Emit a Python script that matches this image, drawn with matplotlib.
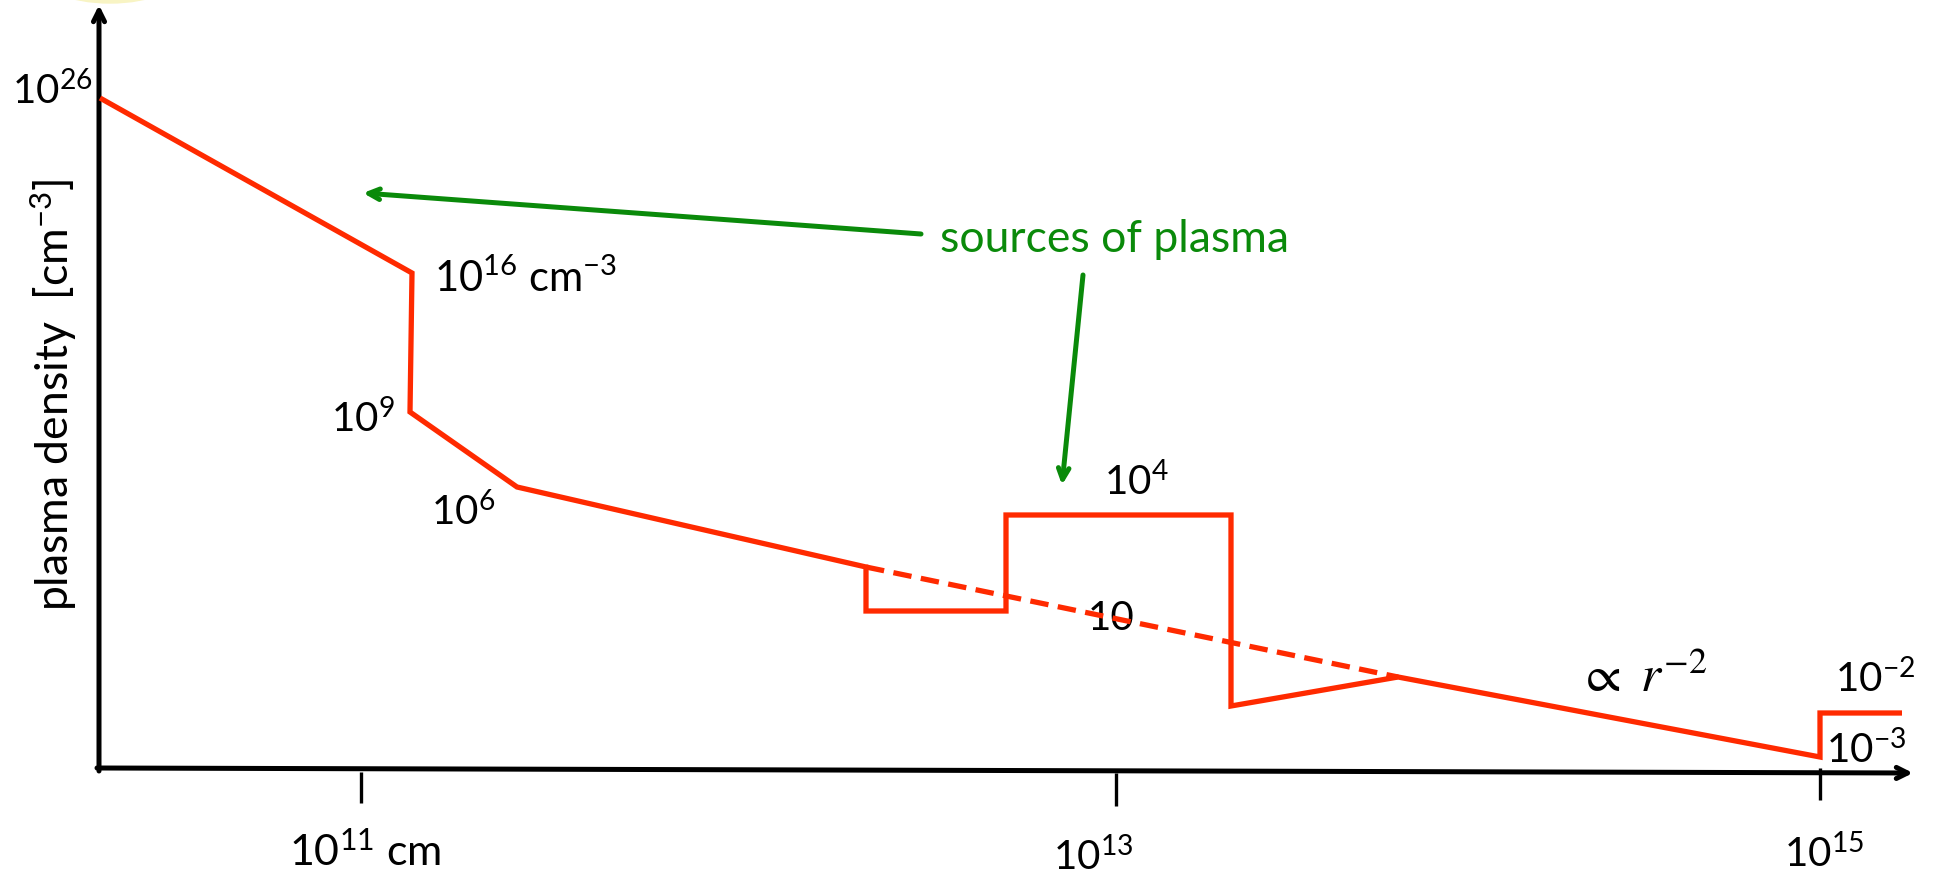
import matplotlib
matplotlib.use("Agg")
import matplotlib.pyplot as plt
from matplotlib.patches import Ellipse

plt.rcParams['font.family'] = ['Lato', 'DejaVu Sans']
plt.rcParams['mathtext.fontset'] = 'custom'
plt.rcParams['mathtext.rm'] = 'Lato'
plt.rcParams['mathtext.it'] = 'Lato:italic'
plt.rcParams['mathtext.bf'] = 'Lato:bold'

# ---- schematic data (diagram units: x to the right, y downward) ----
profile_x = [100, 412, 410, 517, 866, 866, 1006, 1006, 1231, 1231, 1398, 1820, 1820, 1902]
profile_y = [98, 273, 412, 487, 567, 611, 611, 515, 515, 706, 677, 757, 713, 713]
dashed_x = [866, 1398]
dashed_y = [567, 677]

xtick_pos = [361, 1116, 1820]
xtick_top = [772, 773, 768]
xtick_bot = [803, 806, 800]
xtick_labels = ['10$^{11}$ cm', '10$^{13}$', '10$^{15}$']
xtick_label_x = [365, 1093, 1824]
xtick_label_y = [866, 870, 867]
xtick_label_size = [31, 29, 29]

density_labels = ['10$^{26}$', '10$^{16}$ cm$^{-3}$', '10$^{9}$', '10$^{6}$',
                  '10$^{4}$', '10', '10$^{-2}$', '10$^{-3}$']
density_label_x = [12, 434, 331, 431, 1104, 1088, 1835, 1826]
density_label_y = [104, 292, 432, 525, 495, 630, 692, 763]
density_label_size = [29, 30, 29, 29, 29, 29, 29, 29]

RED = '#ff2a00'
GREEN = '#0a8a0a'

fig = plt.figure(figsize=(19.34, 8.74), dpi=100)
ax = fig.add_axes([0, 0, 1, 1])
ax.set_xlim(0, 1934)
ax.set_ylim(874, 0)
ax.axis('off')

# faint yellow blob at the top
ax.add_patch(Ellipse((110, -30), 150, 66, color='#f8f4c4', zorder=0))

# axes arrows
ax.annotate('', xy=(99, 5), xytext=(99, 771),
            arrowprops=dict(arrowstyle='->,head_length=0.8,head_width=0.4',
                            lw=3.6, color='black', shrinkA=0, shrinkB=0))
ax.annotate('', xy=(1913, 773), xytext=(97, 768),
            arrowprops=dict(arrowstyle='->,head_length=0.8,head_width=0.4',
                            lw=3.6, color='black', shrinkA=0, shrinkB=0))

# ticks
for xp, yt, yb in zip(xtick_pos, xtick_top, xtick_bot):
    ax.plot([xp, xp], [yt, yb], color='black', lw=2.4, solid_capstyle='butt')
for lab, lx, ly, fs in zip(xtick_labels, xtick_label_x, xtick_label_y, xtick_label_size):
    ax.text(lx, ly, lab, ha='center', va='baseline', fontsize=fs, color='black')

# density profile
ax.plot(profile_x, profile_y, color=RED, lw=3.8, solid_joinstyle='miter',
        solid_capstyle='butt', zorder=3)
ax.plot(dashed_x, dashed_y, color=RED, lw=3.8, dashes=(3.5, 1.8), zorder=3)

# labels
for lab, lx, ly, fs in zip(density_labels, density_label_x, density_label_y, density_label_size):
    ax.text(lx, ly, lab, ha='left', va='baseline', fontsize=fs, color='black', zorder=2)

ax.text(1578, 692, r'$\propto\ r^{-2}$', ha='left', va='baseline', fontsize=37,
        math_fontfamily='stix', color='black')

ax.text(54, 395, 'plasma density  [cm$^{-3}$]', rotation=90, ha='center', va='center',
        fontsize=32, color='black')

# sources of plasma
ax.text(940, 252, 'sources of plasma', ha='left', va='baseline', fontsize=32, color=GREEN)
ax.annotate('', xy=(363, 193), xytext=(921, 234),
            arrowprops=dict(arrowstyle='->,head_length=0.8,head_width=0.38',
                            lw=3.6, color=GREEN, shrinkA=0, shrinkB=0))
ax.annotate('', xy=(1062, 485), xytext=(1083, 275),
            arrowprops=dict(arrowstyle='->,head_length=0.8,head_width=0.38',
                            lw=3.6, color=GREEN, shrinkA=0, shrinkB=0))

fig.savefig('out.png', dpi=100)
